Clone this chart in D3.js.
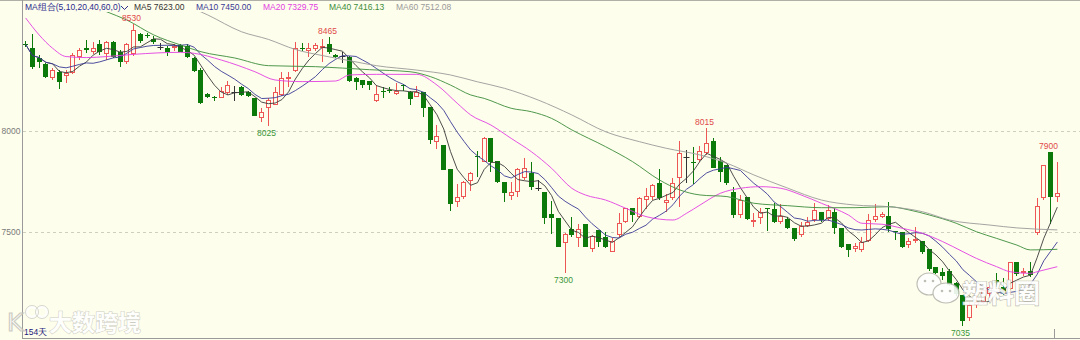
<!DOCTYPE html>
<html>
<head>
<meta charset="utf-8">
<script src="https://cdn.jsdelivr.net/npm/d3@7"></script>
<style>
  body { margin: 0; background: #fefeec; }
  svg { display: block; font-family: "Liberation Sans", Arial, sans-serif; }
</style>
</head>
<body>
<svg width="1080" height="340"></svg>
<script>
// daily candles (154 days)
const opens = [8433,8411,8361,8332,8266,8292,8276,8287,8370,8411, 8391,8431,8381,8444,8391,8341,8381,8480,8475,8457,
  8419,8414,8411,8427,8424,8365,8304,8183,8168,8167, 8188,8193,8221,8193,8163,8068,8114,8130,8180,8259,
  8299,8414,8398,8408,8418,8431,8376,8373,8370,8262, 8252,8249,8150,8200,8203,8183,8229,8193,8172,8193,
  8122,7949,7932,7814,7649,7677,7754,7878,7850,7969, 7853,7751,7682,7701,7767,7792,7718,7698,7589,7569,
  7446,7517,7474,7540,7418,7512,7479,7401,7487,7550, 7619,7578,7660,7677,7743,7644,7672,7771,7875,7849,
  7858,7891,7952,7853,7833,7698,7586,7677,7553,7569, 7620,7616,7550,7566,7520,7487,7533,7561,7599,7566,
  7599,7520,7441,7418,7413,7457,7561,7578,7581,7505, 7500,7437,7457,7457,7418,7330,7302,7309,7248,7190,
  7078,7140,7153,7193,7264,7231,7220,7351,7297,7308, 7495,7668,7899,7677];
const highs = [8447,8480,8378,8337,8312,8304,8304,8386,8414,8452, 8444,8452,8447,8447,8403,8436,8530,8485,8485,8474,
  8436,8424,8430,8430,8430,8370,8312,8188,8177,8221, 8249,8226,8226,8200,8163,8117,8163,8221,8295,8295,
  8441,8436,8436,8436,8458,8465,8381,8394,8375,8271, 8252,8249,8229,8221,8221,8238,8233,8200,8226,8193,
  8122,8031,7932,7814,7738,7754,7800,7903,7974,7969, 7853,7751,7751,7820,7870,7850,7759,7698,7653,7569,
  7495,7578,7540,7540,7487,7512,7503,7474,7594,7622, 7619,7677,7721,7738,7814,7688,7767,7952,7908,7924,
  7929,8015,7969,7875,7833,7726,7685,7677,7594,7622, 7622,7644,7639,7578,7520,7553,7578,7644,7599,7636,
  7619,7520,7441,7446,7479,7589,7639,7602,7648,7507, 7500,7474,7528,7457,7418,7330,7325,7319,7256,7190,
  7153,7190,7223,7256,7297,7272,7355,7351,7325,7351, 7672,7833,7900,7850];
const lows = [8419,8309,8315,8266,8254,8210,8238,8282,8353,8386, 8381,8378,8353,8361,8320,8332,8375,8436,8460,8431,
  8403,8375,8398,8391,8365,8292,8134,8163,8150,8163, 8180,8150,8177,8170,8078,8048,8025,8130,8177,8221,
  8295,8398,8370,8398,8345,8381,8361,8340,8246,8205, 8213,8205,8147,8167,8188,8180,8200,8130,8172,8073,
  7936,7913,7809,7606,7627,7665,7705,7776,7847,7797, 7743,7649,7660,7677,7759,7710,7705,7540,7490,7429,
  7300,7479,7429,7429,7401,7429,7424,7401,7479,7545, 7553,7569,7616,7660,7660,7602,7660,7627,7743,7737,
  7850,7883,7817,7751,7734,7569,7569,7561,7528,7540, 7507,7545,7540,7517,7457,7479,7528,7553,7553,7556,
  7490,7424,7380,7404,7401,7454,7553,7569,7503,7462, 7424,7424,7446,7391,7309,7292,7264,7236,7187,7035,
  7061,7127,7143,7173,7231,7190,7214,7285,7285,7281, 7487,7660,7540,7652];
const closes = [8430,8320,8345,8271,8304,8243,8287,8378,8403,8403, 8414,8391,8444,8370,8341,8431,8502,8447,8470,8440,
  8419,8394,8424,8394,8370,8299,8139,8170,8163,8200, 8229,8193,8180,8177,8078,8094,8155,8196,8262,8271,
  8411,8409,8411,8427,8421,8391,8370,8373,8249,8243, 8229,8229,8183,8195,8200,8200,8224,8160,8196,8117,
  7957,7979,7809,7639,7677,7748,7792,7871,7969,7850, 7748,7693,7701,7814,7820,7726,7718,7573,7573,7429,
  7490,7487,7517,7429,7484,7451,7429,7457,7545,7619, 7586,7672,7682,7734,7668,7660,7743,7891,7875,7845,
  7903,7941,7817,7800,7743,7586,7660,7566,7561,7599, 7617,7553,7581,7520,7467,7533,7553,7611,7561,7611,
  7520,7429,7413,7434,7451,7561,7581,7589,7517,7500, 7429,7457,7467,7401,7319,7297,7286,7239,7193,7061,
  7140,7153,7214,7231,7247,7198,7351,7292,7308,7289, 7632,7833,7677,7693];

// slow averages as [day, value]
const ma20Pts = [[0,8561],[2,8477],[4,8411],[6,8370],[9,8365],[12,8370],[16,8381],[23,8391],[25,8386],[29,8353],
  [34,8295],[37,8254],[41,8246],[46,8249],[48,8279],[52,8282],[58,8282],[61,8229],[64,8139],[66,8081],
  [69,8031],[72,7965],[75,7899],[78,7817],[81,7718],[83,7685],[86,7660],[89,7619],[92,7578],[96,7561],
  [98,7594],[100,7635],[103,7693],[106,7718],[109,7726],[112,7718],[115,7685],[118,7644],[122,7586],[124,7545],
  [127,7540],[130,7520],[133,7495],[136,7454],[139,7404],[141,7371],[144,7330],[146,7305],[149,7297],[150,7305],[153,7330]];
const ma40Pts = [[10,8620],[12,8592],[15,8551],[19,8477],[23,8427],[26,8394],[31,8363],[36,8325],[43,8320],[51,8305],
  [57,8295],[60,8271],[63,8229],[66,8180],[68,8163],[72,8114],[75,8097],[78,8064],[81,8007],[86,7924],
  [90,7850],[94,7759],[97,7710],[100,7685],[104,7677],[108,7644],[113,7632],[118,7622],[123,7622],[128,7627],
  [131,7611],[134,7586],[138,7545],[141,7503],[144,7470],[147,7437],[149,7413],[153,7416]];
const ma60Pts = [[22,8650],[27,8576],[32,8493],[36,8455],[40,8405],[44,8375],[48,8350],[52,8325],[58,8303],[63,8279],
  [67,8245],[71,8213],[76,8155],[81,8081],[86,7998],[91,7949],[95,7916],[100,7883],[104,7842],[108,7784],
  [113,7719],[118,7660],[123,7635],[128,7627],[133,7602],[137,7561],[143,7536],[147,7522],[153,7512]];

const maNames = ["MA5", "MA10", "MA20", "MA40", "MA60"];
const maLast = ["7623.00", "7450.00", "7329.75", "7416.13", "7512.08"];
const maColors = ["#3a3a3a", "#3a3a96", "#e23ee2", "#3b8c3b", "#9a9a9a"];
const yTicks = [8000, 7500];
const peakDays = [16, 45, 101, 152];   // highs that get a red label
const troughDays = [36, 80, 139];      // lows that get a green label

const bg = "#fefeec", upCol = "#ee5656", downCol = "#0b7a0b", dojiCol = "#333";

const svg = d3.select("svg");

const x = d3.scaleBand().domain(d3.range(closes.length)).range([22.3, 1060.7]);
const xc = i => Math.round(x(i) + x.bandwidth() / 2 - 2.5) + 2.5; // crisp centre of a 5px body
const y = d3.scaleLinear().domain([6977, 8650]).range([338, 0]);

svg.append("rect").attr("width", 1080).attr("height", 340).attr("fill", bg);

// dashed grid + price labels
svg.selectAll("line.grid").data(yTicks).join("line")
  .attr("x1", 23).attr("x2", 1080)
  .attr("y1", d => Math.round(y(d)) + 0.5).attr("y2", d => Math.round(y(d)) + 0.5)
  .attr("stroke", "#cfcfbf").attr("stroke-dasharray", "3,3");
svg.selectAll("text.ytick").data(yTicks).join("text")
  .attr("x", 20.5).attr("y", d => y(d) + 3)
  .attr("text-anchor", "end").attr("font-size", "8.5px").attr("fill", "#7a7a7a")
  .text(d => d);

// frame
svg.append("line").attr("x1", 0).attr("x2", 1080).attr("y1", 0.5).attr("y2", 0.5).attr("stroke", "#b0b0a8");
svg.append("line").attr("x1", 22.5).attr("x2", 22.5).attr("y1", 0).attr("y2", 339).attr("stroke", "#9a9a9a");
svg.append("line").attr("x1", 22).attr("x2", 1080).attr("y1", 338.5).attr("y2", 338.5).attr("stroke", "#9a9a9a");
svg.append("line").attr("x1", 1054.5).attr("x2", 1054.5).attr("y1", 329).attr("y2", 338).attr("stroke", "#9a9a9a");

// watermarks
const wm = svg.append("g").attr("opacity", 0.85);
wm.append("text").attr("x", 7).attr("y", 331).attr("font-size", "25px").attr("font-family", "DejaVu Sans")
  .attr("fill", "#fff").attr("stroke", "#c4c4bc").attr("stroke-width", 1.2).text("K");
[[32, 312], [42, 312]].forEach(p => wm.append("circle").attr("cx", p[0]).attr("cy", p[1]).attr("r", 5)
  .attr("fill", "none").attr("stroke", "#fff").attr("stroke-width", 2.5));
[[32, 312], [42, 312]].forEach(p => wm.append("circle").attr("cx", p[0]).attr("cy", p[1]).attr("r", 6.5)
  .attr("fill", "none").attr("stroke", "#c4c4bc").attr("stroke-width", 0.8));
wm.append("text").attr("x", 49).attr("y", 331).attr("font-size", "23px")
  .attr("font-family", "Noto Sans CJK SC").attr("font-weight", 700)
  .attr("fill", "#fff").attr("stroke", "#c4c4bc").attr("stroke-width", 1).attr("paint-order", "stroke")
  .text("大数跨境");

// candles
const days = closes.map((c, i) => ({ i, o: opens[i], h: highs[i], l: lows[i], c }));
const col = d => d.c > d.o ? upCol : d.c < d.o ? downCol : dojiCol;

const cg = svg.append("g");
cg.selectAll("line.wick").data(days).join("line")
  .attr("x1", d => xc(d.i)).attr("x2", d => xc(d.i))
  .attr("y1", d => Math.round(y(d.h))).attr("y2", d => Math.round(y(d.l)))
  .attr("stroke", col);

cg.selectAll("rect.up").data(days.filter(d => d.c > d.o)).join("rect")
  .attr("x", d => xc(d.i) - 2)
  .attr("y", d => Math.round(y(d.c)) + 0.5)
  .attr("width", 4)
  .attr("height", d => Math.max(1, Math.round(y(d.o)) - Math.round(y(d.c)) - 1))
  .attr("fill", bg).attr("stroke", upCol);

cg.selectAll("rect.down").data(days.filter(d => d.c < d.o)).join("rect")
  .attr("x", d => xc(d.i) - 2.5)
  .attr("y", d => Math.round(y(d.o)))
  .attr("width", 5)
  .attr("height", d => Math.max(1, Math.round(y(d.c)) - Math.round(y(d.o))))
  .attr("fill", downCol);

cg.selectAll("line.doji").data(days.filter(d => d.c === d.o)).join("line")
  .attr("x1", d => xc(d.i) - 3).attr("x2", d => xc(d.i) + 3)
  .attr("y1", d => Math.round(y(d.c)) + 0.5).attr("y2", d => Math.round(y(d.c)) + 0.5)
  .attr("stroke", dojiCol);

// moving averages
svg.append("clipPath").attr("id", "plot")
  .append("rect").attr("x", 23).attr("y", 12).attr("width", 1057).attr("height", 326);

const rolling = n => closes.map((c, i) => [i, d3.mean(closes.slice(Math.max(0, i - n + 1), i + 1))]);
const maSeries = [rolling(5), rolling(10), ma20Pts, ma40Pts, ma60Pts];

const lg = svg.append("g").attr("clip-path", "url(#plot)");
maSeries.forEach((pts, k) => {
  const line = d3.line()
    .x(p => x(p[0]) + x.bandwidth() / 2)
    .y(p => y(p[1]))
    .curve(k < 2 ? d3.curveLinear : d3.curveMonotoneX);
  lg.append("path").attr("d", line(pts))
    .attr("fill", "none").attr("stroke", maColors[k]).attr("stroke-width", 0.9);
});

// high / low labels
svg.selectAll("text.peak").data(peakDays).join("text")
  .attr("x", i => xc(i) - 2).attr("y", i => y(highs[i]) - 3)
  .attr("text-anchor", "middle").attr("font-size", "8.5px").attr("fill", "#e04a4a")
  .text(i => highs[i]);
svg.selectAll("text.trough").data(troughDays).join("text")
  .attr("x", i => xc(i) - 2).attr("y", i => y(lows[i]) + 10)
  .attr("text-anchor", "middle").attr("font-size", "8.5px").attr("fill", "#3a963a")
  .text(i => lows[i]);

// right watermark
const wm2 = svg.append("g").attr("opacity", 0.9);
wm2.append("ellipse").attr("cx", 929).attr("cy", 284).attr("rx", 12).attr("ry", 11)
  .attr("fill", "#fff").attr("stroke", "#b8b8b0").attr("stroke-width", 1.2);
wm2.append("ellipse").attr("cx", 946).attr("cy", 293).attr("rx", 13).attr("ry", 10)
  .attr("fill", "#fff").attr("stroke", "#b8b8b0").attr("stroke-width", 1.2);
[[925, 281], [933, 281], [942, 291], [950, 291]].forEach(p => wm2.append("circle")
  .attr("cx", p[0]).attr("cy", p[1]).attr("r", 1.3).attr("fill", "#b8b8b0"));
wm2.append("text").attr("x", 962).attr("y", 303).attr("font-size", "26px")
  .attr("font-family", "Noto Sans CJK SC").attr("font-weight", 700)
  .attr("fill", "#fff").attr("stroke", "#b0b0a8").attr("stroke-width", 1.1).attr("paint-order", "stroke")
  .text("塑料圈");

// day count
svg.append("text").attr("x", 24).attr("y", 335).attr("font-size", "8.5px").attr("fill", "#23237e")
  .text("154天");

// legend strip
svg.append("text").attr("x", 25).attr("y", 10).attr("font-size", "8.5px").attr("fill", "#2b2b8c")
  .text("MA组合(5,10,20,40,60,0)");
svg.append("path").attr("d", "M121,6 L124.5,9.5 L128,6").attr("fill", "none").attr("stroke", "#2b2b8c");
const legendX = [134, 196, 263, 329, 396];
svg.selectAll("text.leg").data(maNames).join("text")
  .attr("x", (d, k) => legendX[k]).attr("y", 10)
  .attr("font-size", "8.5px").attr("fill", (d, k) => k === 0 ? "#333" : maColors[k])
  .text((d, k) => d + " " + maLast[k]);
</script>
</body>
</html>
